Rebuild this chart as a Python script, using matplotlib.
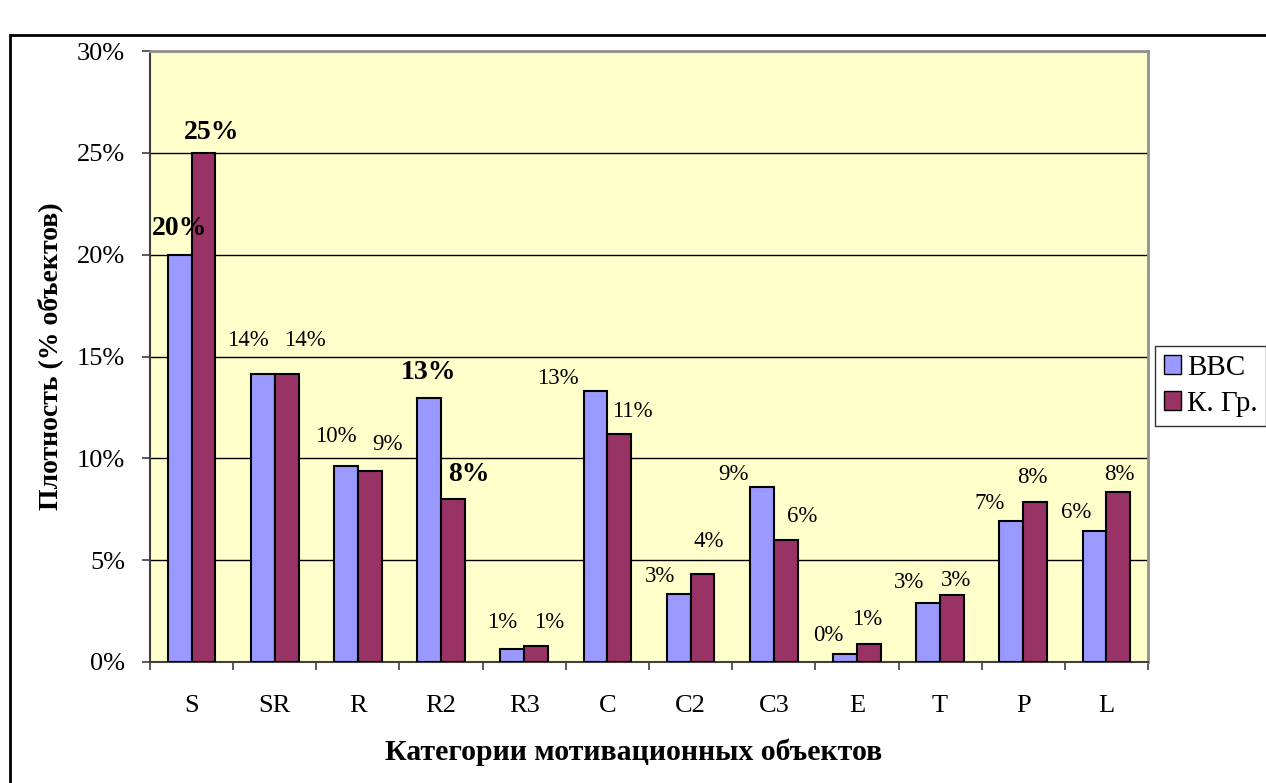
import matplotlib
matplotlib.use("Agg")
import matplotlib.pyplot as plt
import numpy as np
from matplotlib.patches import Rectangle, Patch

plt.rcParams['font.family'] = ['Liberation Serif', 'DejaVu Serif']

categories = ["S", "SR", "R", "R2", "R3", "C", "C2", "C3", "E", "T", "P", "L"]
bbc = [20.0, 14.15, 9.6, 12.96, 0.65, 13.33, 3.32, 8.58, 0.39, 2.91, 6.91, 6.45]
kgr = [25.0, 14.15, 9.36, 7.99, 0.8, 11.19, 4.3, 6.01, 0.9, 3.27, 7.86, 8.33]
bbc_labels = ["20%", "14%", "10%", "13%", "1%", "13%", "3%", "9%", "0%", "3%", "7%", "6%"]
kgr_labels = ["25%", "14%", "9%", "8%", "1%", "11%", "4%", "6%", "1%", "3%", "8%", "8%"]
bold_cats = ["S", "R2"]
series_names = ["BBC", "К. Гр."]

# label offsets (pixels) from top centre of each bar
bbc_dx = [0, -15, -10, -1, -10, -38, -19, -28, -17, -19, -22, -18]
bbc_dy = [26, 33, 30, 26, 26, 12, 18, 13, 19, 20, 18, 18]
kgr_dx = [8, 18, 18, 16, 13, 13, 6, 17, -2, 4, -3, 1]
kgr_dy = [20, 33, 27, 25, 23, 23, 33, 23, 24, 15, 24, 18]

c_bbc = "#9999FF"
c_kgr = "#993366"

fig = plt.figure(figsize=(12.66, 7.83), dpi=100)
ax = fig.add_axes([150 / 1266, 1 - 662 / 783, 998 / 1266, 611 / 783])
ax.set_facecolor("#FFFFCC")

x = np.arange(len(categories))
w = 0.286
ax.bar(x - w / 2, bbc, w, color=c_bbc, edgecolor="black", linewidth=1.5, zorder=3)
ax.bar(x + w / 2, kgr, w, color=c_kgr, edgecolor="black", linewidth=1.5, zorder=3)

for i, cat in enumerate(categories):
    bold = cat in bold_cats
    fs = 20 if bold else 16.5
    fw = "bold" if bold else "normal"
    ax.annotate(bbc_labels[i], (x[i] - w / 2, bbc[i]), xytext=(bbc_dx[i], bbc_dy[i]),
                textcoords="offset pixels", ha="center", va="center",
                fontsize=fs, fontweight=fw, zorder=5)
    ax.annotate(kgr_labels[i], (x[i] + w / 2, kgr[i]), xytext=(kgr_dx[i], kgr_dy[i]),
                textcoords="offset pixels", ha="center", va="center",
                fontsize=fs, fontweight=fw, zorder=5)

ax.set_xlim(-0.5, len(categories) - 0.5)
ax.set_ylim(0, 30)
ax.set_yticks(np.arange(0, 31, 5))
ax.set_yticklabels([f"{v}%" for v in range(0, 31, 5)], fontsize=19)
ax.yaxis.grid(True, color="black", linewidth=1.0, zorder=0)
ax.set_axisbelow(True)

ax.set_xticks(x)
ax.set_xticklabels(categories, fontsize=19)
ax.set_xticks(np.arange(-0.5, len(categories), 1), minor=True)
ax.tick_params(axis="x", which="major", length=0, pad=24)
ax.tick_params(axis="x", which="minor", length=6, width=1.2, color="#404040", direction="out")
ax.tick_params(axis="y", length=6, width=1.2, color="#404040", pad=12)

for side in ["left", "bottom"]:
    ax.spines[side].set_color("#404040")
    ax.spines[side].set_linewidth(1.5)
for side in ["right", "top"]:
    ax.spines[side].set_color("#909090")
    ax.spines[side].set_linewidth(2.0)

fig.text(634 / 1266, 1 - 752 / 783, "Категории мотивационных объектов",
         ha="center", va="center", fontsize=21.5, fontweight="bold")
fig.text(50 / 1266, 1 - 356 / 783, "Плотность (% объектов)",
         ha="center", va="center", rotation=90, fontsize=20, fontweight="bold")

handles = [Patch(facecolor=c_bbc, edgecolor="black"), Patch(facecolor=c_kgr, edgecolor="black")]
leg = fig.legend(handles, series_names, loc="upper left",
                 bbox_to_anchor=(1155 / 1266, 1 - 346 / 783), fontsize=21,
                 frameon=True, fancybox=False, edgecolor="black",
                 handlelength=0.6, handleheight=0.6, handletextpad=0.2,
                 borderpad=0.3, labelspacing=0.35, borderaxespad=0)
leg.get_frame().set_linewidth(1.0)

# outer chart frame
fig.patches.append(Rectangle((10 / 1266, -0.1), 1.2, 1 - 35 / 783 + 0.1,
                             transform=fig.transFigure, fill=False,
                             edgecolor="black", linewidth=2))

fig.savefig("out.png", dpi=100)
